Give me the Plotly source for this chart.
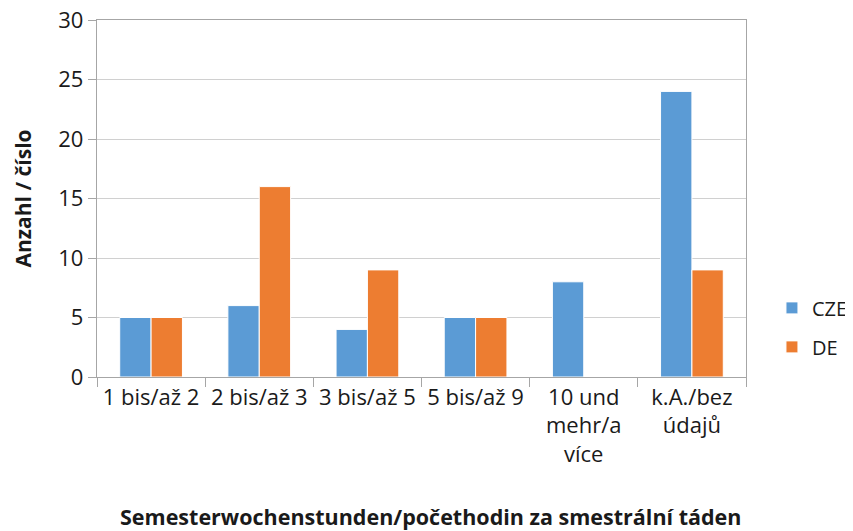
import plotly.graph_objects as go

categories = ["1 bis/až 2", "2 bis/až 3", "3 bis/až 5", "5 bis/až 9",
              "10 und<br>mehr/a<br>více", "k.A./bez<br>údajů"]
cze = [5, 6, 4, 5, 8, 24]
de = [5, 16, 9, 5, 0, 9]
y_ticks = [0, 5, 10, 15, 20, 25, 30]

FONT = "Open Sans"
OFF = 8  # page body margin
W, H = 853, 531
L, T = 97 - OFF, 20 - OFF
R, B = W - (746 - OFF), H - (377 - OFF)
fig = go.Figure()
fig.add_trace(go.Bar(name="CZE", x=categories, y=cze, marker_color="#5B9BD5",
                     marker_line_color="white", marker_line_width=1, legendgroup="a"))
fig.add_trace(go.Bar(name="DE", x=categories, y=de, marker_color="#ED7D31",
                     marker_line_color="white", marker_line_width=1, legendgroup="b"))

fig.update_layout(
    width=W, height=H,
    margin=dict(l=L, r=R, t=T, b=B, autoexpand=False),
    paper_bgcolor="white", plot_bgcolor="white",
    barmode="group", bargap=0.42, bargroupgap=0,
    font=dict(family=FONT, size=22, color="#1a1a1a"),
    legend=dict(x=1.040, y=0.139, xanchor="left", yanchor="middle",
                font=dict(size=20), tracegroupgap=10, itemwidth=30),
    xaxis=dict(
        automargin=False, tickangle=0,
        showline=True, linecolor="#A6A6A6", linewidth=1.3, mirror=True,
        ticks="outside", tickson="boundaries", ticklen=9, tickcolor="#A6A6A6",
        tickfont=dict(size=22),
    ),
    yaxis=dict(
        automargin=False, ticklabeloverflow="allow",
        range=[0, 30], tickvals=y_ticks,
        showline=True, linecolor="#A6A6A6", linewidth=1.3, mirror=True,
        ticks="outside", ticklen=8, tickcolor="#A6A6A6",
        showgrid=True, gridcolor="#D0D0D0", gridwidth=1.3,
        tickfont=dict(size=22),
    ),
    annotations=[
        dict(text="<b>Anzahl / číslo</b>", textangle=-90, xref="paper", yref="paper",
             x=0, y=0.5, xanchor="center", yanchor="middle", xshift=22 - 97,
             showarrow=False, font=dict(size=21)),
        dict(text="<b>Semesterwochenstunden/počethodin za smestrální táden</b>",
             xref="paper", yref="paper", x=0.5, y=0, xanchor="center", yanchor="middle",
             xshift=9, yshift=-(516 - 377), showarrow=False, font=dict(size=21.5)),
    ],
)
fig.write_html("out.html")
